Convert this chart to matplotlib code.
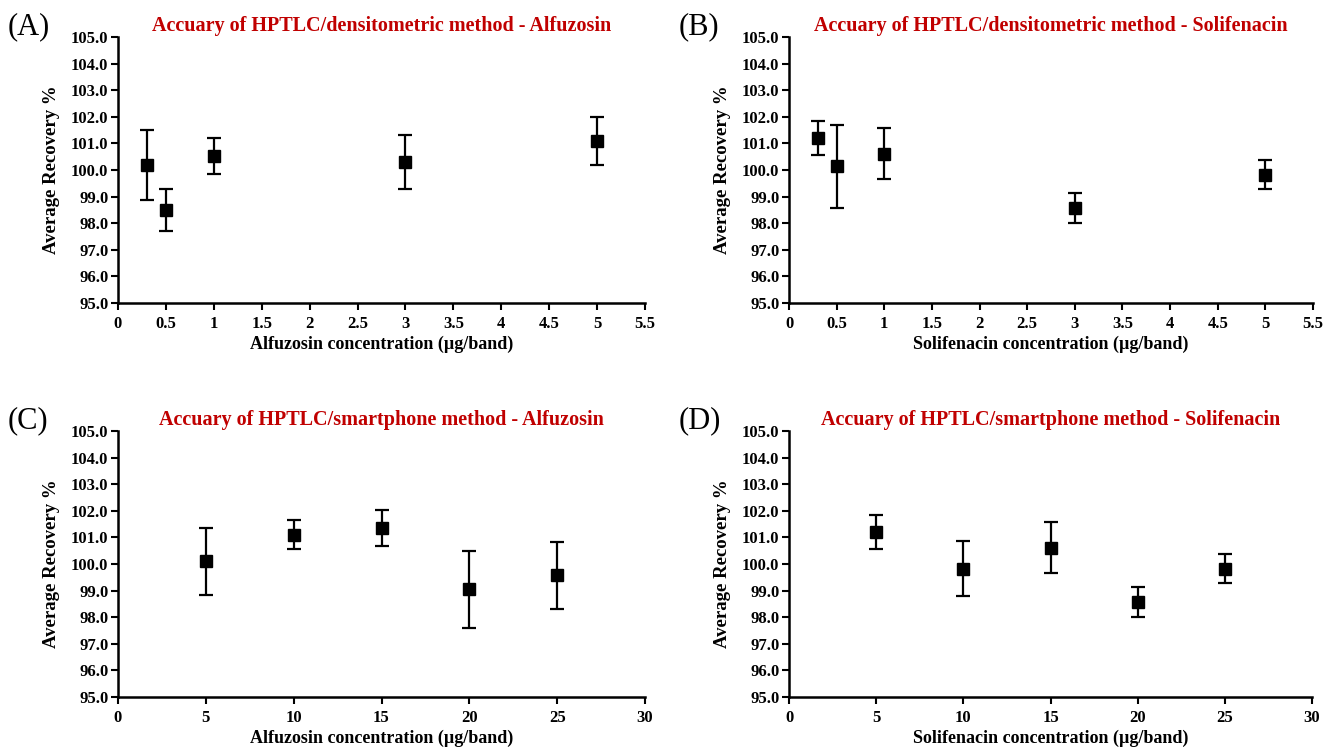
import matplotlib
matplotlib.use("Agg")
import matplotlib.pyplot as plt

plt.rcParams['font.family'] = ['Liberation Serif', 'DejaVu Serif']

# Data
conc_dens = [0.3, 0.5, 1, 3, 5]
conc_smart = [5, 10, 15, 20, 25]

alf_dens_mean = [100.18, 98.50, 100.52, 100.30, 101.10]
alf_dens_err = [1.32, 0.80, 0.67, 1.00, 0.90]

sol_dens_mean = [101.20, 100.15, 100.62, 98.57, 99.83]
sol_dens_err = [0.65, 1.56, 0.97, 0.55, 0.55]

alf_smart_mean = [100.10, 101.10, 101.35, 99.05, 99.57]
alf_smart_err = [1.27, 0.55, 0.67, 1.45, 1.25]

sol_smart_mean = [101.20, 99.83, 100.62, 98.57, 99.83]
sol_smart_err = [0.65, 1.02, 0.97, 0.55, 0.55]

titles = ["Accuary of HPTLC/densitometric method - Alfuzosin",
          "Accuary of HPTLC/densitometric method - Solifenacin",
          "Accuary of HPTLC/smartphone method - Alfuzosin",
          "Accuary of HPTLC/smartphone method - Solifenacin"]
xlabels = ["Alfuzosin concentration (\u00b5g/band)",
           "Solifenacin concentration (\u00b5g/band)",
           "Alfuzosin concentration (\u00b5g/band)",
           "Solifenacin concentration (\u00b5g/band)"]
panel_labels = ["(A)", "(B)", "(C)", "(D)"]

W, H = 1325, 749
fig = plt.figure(figsize=(W / 100, H / 100), dpi=100)

# axes boxes in pixels: left, right, top, bottom
boxes = [(118, 645, 37, 303), (789, 1313, 37, 303),
         (118, 645, 431, 697), (789, 1312, 431, 697)]
datasets = [(conc_dens, alf_dens_mean, alf_dens_err),
            (conc_dens, sol_dens_mean, sol_dens_err),
            (conc_smart, alf_smart_mean, alf_smart_err),
            (conc_smart, sol_smart_mean, sol_smart_err)]

for i, ((l, r, t, b), (x, y, e)) in enumerate(zip(boxes, datasets)):
    ax = fig.add_axes([l / W, 1 - b / H, (r - l) / W, (b - t) / H])
    ax.errorbar(x, y, yerr=e, fmt='s', color='black', ecolor='black',
                markersize=9, capsize=5, elinewidth=1.6, capthick=1.6)
    ax.set_ylim(95, 105)
    ax.set_yticks([95 + k for k in range(11)])
    ax.set_yticklabels([f"{95 + k:.1f}" for k in range(11)])
    if i < 2:
        ax.set_xlim(0, 5.5)
        xt = [k * 0.5 for k in range(12)]
        ax.set_xticks(xt)
        ax.set_xticklabels(["0" if v == 0 else (f"{v:g}") for v in xt])
    else:
        ax.set_xlim(0, 30)
        ax.set_xticks(range(0, 31, 5))
    for s in ['top', 'right']:
        ax.spines[s].set_visible(False)
    for s in ['left', 'bottom']:
        ax.spines[s].set_linewidth(1.8)
    ax.tick_params(axis='both', direction='out', length=5, width=1.5,
                   labelsize=12, pad=2)
    ax.tick_params(axis='x', pad=4)
    for lab in ax.get_xticklabels() + ax.get_yticklabels():
        lab.set_fontweight('bold')
    ax.set_xlabel(xlabels[i], fontsize=13, fontweight='bold', labelpad=3)
    ax.set_ylabel("Average Recovery %", fontsize=13.5, fontweight='bold', labelpad=8)
    fig.text((l + r) / 2 / W, 1 - (t - 11) / H, titles[i],
             ha='center', va='center', fontsize=14.5, fontweight='bold',
             color='#C00000')
    fig.text((l - 110) / W, 1 - (t - 10) / H, panel_labels[i],
             fontsize=22, ha='left', va='center')

fig.savefig("out.png", dpi=100)
